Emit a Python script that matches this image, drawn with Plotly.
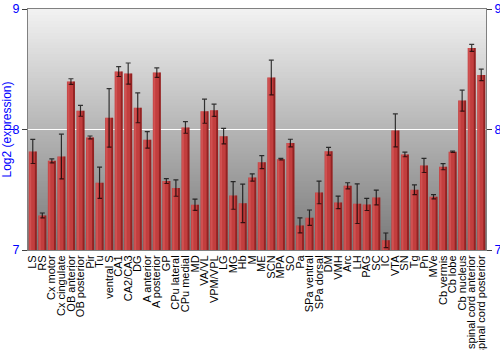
import plotly.graph_objects as go

regions = ["LS", "RS", "Cx motor", "Cx cingulate", "OB anterior", "OB posterior", "Pir", "Tu",
           "ventral S", "CA1", "CA2/CA3", "DG", "A anterior", "A posterior", "GP", "CPu lateral",
           "CPu medial", "MD", "VA/VL", "VPM/VPL", "LG", "MG", "Hb", "M", "ME", "SCN", "MPA", "SO",
           "Pa", "SPa ventral", "SPa dorsal", "DM", "VMH", "Arc", "LH", "PAG", "SC", "IC", "VTA",
           "SN", "Tg", "Pn", "MVe", "Cb vermis", "Cb lobe", "Cb nucleus",
           "spinal cord anterior", "spinal cord posterior"]
expression = [7.818, 7.287, 7.740, 7.776, 8.398, 8.155, 7.934, 7.558,
              8.097, 8.481, 8.464, 8.180, 7.914, 8.472, 7.572, 7.514,
              8.017, 7.376, 8.152, 8.160, 7.945, 7.453, 7.387, 7.602, 7.729, 8.431, 7.754, 7.887,
              7.204, 7.268, 7.478, 7.820, 7.395, 7.533, 7.384, 7.378, 7.436, 7.080, 7.992,
              7.793, 7.500, 7.702, 7.442, 7.691, 7.815, 8.240,
              8.677, 8.453]
errors = [0.100, 0.020, 0.017, 0.185, 0.023, 0.045, 0.012, 0.130,
          0.243, 0.041, 0.088, 0.124, 0.069, 0.039, 0.020, 0.068,
          0.048, 0.047, 0.100, 0.051, 0.065, 0.115, 0.160, 0.030, 0.054, 0.144, 0.006, 0.032,
          0.062, 0.064, 0.094, 0.032, 0.052, 0.025, 0.164, 0.050, 0.061, 0.061, 0.137,
          0.019, 0.041, 0.059, 0.018, 0.025, 0.006, 0.087,
          0.029, 0.048]
y_ticks = [7, 8, 9]

fig = go.Figure()

# main bars
fig.add_trace(go.Bar(
    x=regions, y=expression, base=0,
    width=0.84, offset=-0.42,
    marker=dict(color="#c23e3e", line=dict(width=0)),
    error_y=dict(type="data", array=errors, visible=True,
                 color="rgba(0,0,0,0.75)", thickness=1.2, width=2.5),
    hoverinfo="x+y", showlegend=False,
))
# left highlight strip
fig.add_trace(go.Bar(
    x=regions, y=expression, base=0,
    width=0.2, offset=-0.36,
    marker=dict(color="rgba(230,110,110,0.4)", line=dict(width=0)),
    hoverinfo="skip", showlegend=False,
))
# right shade strip
fig.add_trace(go.Bar(
    x=regions, y=expression, base=0,
    width=0.2, offset=0.22,
    marker=dict(color="rgba(90,0,0,0.45)", line=dict(width=0)),
    hoverinfo="skip", showlegend=False,
))
# dummy for right axis
fig.add_trace(go.Scatter(x=[regions[0]], y=[8], yaxis="y2", mode="markers",
                         marker=dict(opacity=0), hoverinfo="skip", showlegend=False))

# background gradient (overlapping strips to avoid seams)
n = 80
shapes = []
for i in range(n):
    t = (i + 0.5) / n
    c = int(round(120 + (242 - 120) * t))
    shapes.append(dict(type="rect", xref="x domain", yref="y domain",
                       x0=0, x1=1, y0=i / n, y1=min(1, (i + 2) / n),
                       fillcolor=f"rgb({c},{c},{c})", line=dict(width=0), layer="below"))

font = "Liberation Sans, Arial, sans-serif"
fig.update_layout(
    width=500, height=350,
    margin=dict(l=28, r=14, t=9, b=100),
    paper_bgcolor="white", plot_bgcolor="white",
    barmode="overlay", bargap=0.1,
    shapes=shapes,
    font=dict(family=font, size=12, color="black"),
    xaxis=dict(tickangle=-90, tickmode="array", tickvals=regions, ticktext=regions,
               tickfont=dict(size=11, color="black"), showline=True,
               linecolor="#808080", mirror=True, ticks="", automargin=False,
               range=[-0.5, len(regions) - 0.5]),
    yaxis=dict(range=[7, 9], tickvals=y_ticks, tickfont=dict(size=12.5, color="blue"),
               ticks="outside", ticklen=5, tickcolor="#404040",
               showline=True, linecolor="#808080", mirror=False,
               showgrid=True, gridcolor="white", gridwidth=1, zeroline=False,
               title=dict(text="Log2 (expression)", font=dict(size=12, color="blue"), standoff=2),
               automargin=False),
    yaxis2=dict(range=[7, 9], tickvals=y_ticks, overlaying="y", side="right",
                tickfont=dict(size=12.5, color="blue"), ticks="outside", ticklen=5,
                tickcolor="#404040", showline=True, linecolor="#808080",
                showgrid=False, zeroline=False, automargin=False),
)

fig.write_html("out.html")
